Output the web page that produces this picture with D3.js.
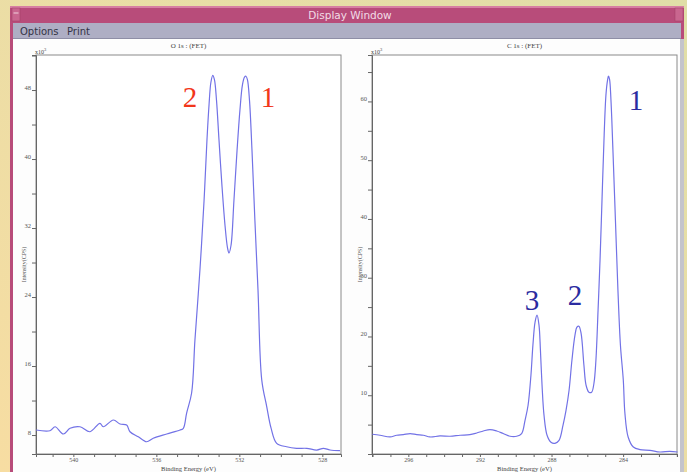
<!DOCTYPE html>
<html><head><meta charset="utf-8">
<script src="https://cdn.jsdelivr.net/npm/d3@7"></script>
<style>html,body{margin:0;padding:0;overflow:hidden;background:#e9dfa6}</style>
</head><body><svg id="c" width="687" height="472"></svg>
<script>
// ---- Data (intensity in units of x10^3 CPS) ----
const oEnergy = [541.8,541.13,540.88,540.48,540.16,539.68,539.2,538.72,538.56,538.07,537.75,537.43,537.27,536.87,536.47,536.15,535.5,534.86,534.7,534.54,534.3,534.14,533.9,533.7,533.56,533.46,533.37,533.28,533.2,533.1,532.98,532.84,532.69,532.57,532.5,532.4,532.26,532.11,531.97,531.85,531.75,531.68,531.61,531.51,531.39,531.25,531.1,530.92,530.68,530.47,530.2,529.72,529.24,528.75,528.27,527.95,527.63,527.15];
const oIntensity = [8.58,8.5,8.96,8.12,8.78,8.96,8.38,9.36,8.96,9.74,9.28,9.16,8.38,7.8,7.22,7.62,8.12,8.58,8.78,10.55,12.87,19.0,27.1,35.2,42.2,46.3,48.9,49.7,49.2,46.8,42.2,37.0,32.3,29.7,29.1,30.0,35.2,41.0,45.7,48.6,49.5,49.6,49.2,46.8,41.0,32.9,24.8,14.4,11.3,8.8,7.04,6.64,6.46,6.46,6.26,6.46,6.26,6.18];
const cEnergy = [298.01,297.58,297.02,296.65,296.28,295.9,295.53,295.16,294.79,294.23,293.67,293.11,292.56,292.18,291.81,291.44,291.06,290.7,290.32,289.95,289.67,289.48,289.31,289.15,289.04,288.92,288.81,288.7,288.62,288.53,288.42,288.25,288.03,287.81,287.58,287.36,287.19,287.02,286.86,286.69,286.58,286.47,286.35,286.19,286.07,285.91,285.76,285.63,285.52,285.4,285.29,285.18,285.07,284.96,284.87,284.82,284.76,284.68,284.57,284.43,284.29,284.15,283.99,283.9,283.72,283.43,283.06,282.5,281.94,281.39,280.96];
const cIntensity = [3.36,3.19,2.9,3.19,3.3,3.48,3.3,3.19,2.9,3.07,3.02,3.19,3.3,3.58,3.92,4.16,3.92,3.48,3.02,3.02,3.48,5.74,8.3,13.41,18.52,22.44,23.63,21.93,17.67,11.7,6.59,3.19,1.99,1.82,2.33,4.89,7.44,10.85,15.96,20.22,21.58,21.75,20.56,15.11,11.7,10.51,10.51,12.04,15.96,24.48,33.0,43.2,53.41,61.1,63.63,64.3,63.8,60.25,51.74,39.82,27.89,18.52,12.55,6.93,2.9,1.19,0.75,0.63,0.34,0.46,0.34];
const oXTicks = [540,536,532,528];
const oYTicks = [8,16,24,32,40,48];
const cXTicks = [296,292,288,284];
const cYTicks = [10,20,30,40,50,60];
const oPeakLabels = ["2","1"];
const oPeakPos = [534.38,530.62];
const cPeakLabels = ["3","2","1"];
const cPeakPos = [289.09,286.69,283.28];

const svg = d3.select("#c");
const defs = svg.append("defs");
const g = defs.append("linearGradient").attr("id","bg").attr("x1","1").attr("y1","0").attr("x2","0").attr("y2","1");
g.append("stop").attr("offset","0").attr("stop-color","#e0dea8");
g.append("stop").attr("offset","1").attr("stop-color","#f7dda2");
svg.append("rect").attr("width",687).attr("height",472).attr("fill","url(#bg)");

// window frame
svg.append("rect").attr("x",10).attr("y",6).attr("width",674).attr("height",470).attr("fill","#b84c7a");
svg.append("rect").attr("x",10).attr("y",6).attr("width",674).attr("height",2).attr("fill","#d77fa2");
svg.append("rect").attr("x",13).attr("y",23).attr("width",668).attr("height",455).attr("fill","#fdfdfd");
svg.append("rect").attr("x",13).attr("y",23).attr("width",668).attr("height",16).attr("fill","#aeaec4");
svg.append("rect").attr("x",13).attr("y",38).attr("width",668).attr("height",1).attr("fill","#8e8ea6");
svg.append("rect").attr("x",680).attr("y",39).attr("width",4).attr("height",440).attr("fill","#c4c4cc");
svg.append("rect").attr("x",12).attr("y",8).attr("width",8).attr("height",13).attr("fill","#c9668f").attr("stroke","#9e3e66").attr("stroke-width",0.5);
svg.append("line").attr("x1",13.5).attr("x2",18.5).attr("y1",13).attr("y2",13).attr("stroke","#f0d0dc").attr("stroke-width",1);
svg.append("rect").attr("x",675).attr("y",8).attr("width",8).attr("height",13).attr("fill","#c9668f").attr("stroke","#9e3e66").attr("stroke-width",0.5);
svg.append("text").attr("x",350).attr("y",19).attr("text-anchor","middle").attr("fill","#f2dce6")
  .style("font-family","DejaVu Sans").style("font-size","10.5px").text("Display Window");
svg.append("text").attr("x",20).attr("y",35).attr("fill","#333344")
  .style("font-family","DejaVu Sans").style("font-size","10px").text("Options");
svg.append("text").attr("x",67).attr("y",35).attr("fill","#333344")
  .style("font-family","DejaVu Sans").style("font-size","10px").text("Print");

function panel(cfg){
  const x = d3.scaleLinear().domain(cfg.xDomain).range([cfg.left, cfg.right]);
  const y = d3.scaleLinear().domain(cfg.yDomain).range([cfg.bottom, cfg.top]);
  const gp = svg.append("g");
  gp.append("rect").attr("x",cfg.left).attr("y",cfg.top).attr("width",cfg.right-cfg.left).attr("height",cfg.bottom-cfg.top)
    .attr("fill","#fff").attr("stroke","#8a8a8a").attr("stroke-width",1);
  const xMinor = d3.range(Math.ceil(cfg.xDomain[1]), Math.floor(cfg.xDomain[0])+1, 1);
  const xa = d3.axisBottom(x).tickValues(xMinor).tickSize(3)
    .tickFormat(d => cfg.xTicks.includes(d) ? d : "");
  const gx = gp.append("g").attr("transform",`translate(0,${cfg.bottom})`).call(xa);
  gx.select(".domain").attr("stroke","#666");
  gx.selectAll(".tick line").attr("stroke","#666");
  gx.selectAll("text").attr("fill","#555").style("font-family","Liberation Serif").style("font-size","6px").attr("y",3.5).attr("dy","0.75em");
  const yMinor = d3.range(Math.ceil(cfg.yDomain[0]/cfg.yMinorStep)*cfg.yMinorStep, cfg.yDomain[1], cfg.yMinorStep);
  const ya = d3.axisLeft(y).tickValues(yMinor).tickSize(4)
    .tickFormat(d => cfg.yTicks.includes(d) ? d : "");
  const gy = gp.append("g").attr("transform",`translate(${cfg.left},0)`).call(ya);
  gy.select(".domain").attr("stroke","#666");
  gy.selectAll(".tick line").attr("stroke","#666");
  gy.selectAll("text").attr("fill","#555").style("font-family","Liberation Serif").style("font-size","6.5px").attr("dy","-0.1em").attr("x",-5);
  gp.append("text").attr("x",(cfg.left+cfg.right)/2).attr("y",48).attr("text-anchor","middle").attr("fill","#444")
    .style("font-family","Liberation Serif").style("font-size","7px").text(cfg.title);
  gp.append("text").attr("x",(cfg.left+cfg.right)/2).attr("y",471).attr("text-anchor","middle").attr("fill","#444")
    .style("font-family","Liberation Serif").style("font-size","6.5px").text("Binding Energy (eV)");
  gp.append("text").attr("transform",`translate(${cfg.left-10},${(cfg.top+cfg.bottom)/2+10}) rotate(-90)`).attr("text-anchor","middle").attr("fill","#555")
    .style("font-family","Liberation Serif").style("font-size","6px").text("Intensity(CPS)");
  const ex = gp.append("text").attr("x",cfg.left-1).attr("y",cfg.top-1).attr("fill","#444")
    .style("font-family","Liberation Serif").style("font-size","6px");
  ex.append("tspan").text("x10");
  ex.append("tspan").attr("dy",-3).style("font-size","4.5px").text("3");
  const pts = cfg.energy.map((e,i)=>[e,cfg.intensity[i]]);
  gp.append("path").datum(pts).attr("fill","none").attr("stroke","#7272e6").attr("stroke-width",1.2)
    .attr("d", d3.line().x(d=>x(d[0])).y(d=>y(d[1])).curve(d3.curveCatmullRom.alpha(0.5)));
  cfg.labels.forEach((t,i)=>{
    gp.append("text").attr("x",x(cfg.labelPos[i])).attr("y",cfg.labelY[i]).attr("text-anchor","middle")
      .attr("fill",cfg.labelColor).style("font-family","Liberation Serif").style("font-size","29px").text(t);
  });
}

panel({left:36,right:341,top:55,bottom:454,xDomain:[541.8,527.1],yDomain:[5.8,52.06],yMinorStep:4,
  xTicks:oXTicks,yTicks:oYTicks,title:"O 1s : (FET)",energy:oEnergy,intensity:oIntensity,
  labels:oPeakLabels,labelPos:oPeakPos,labelY:[107,107],labelColor:"#f2361a"});
panel({left:372,right:677,top:55,bottom:454,xDomain:[298.03,280.99],yDomain:[0,67.9],yMinorStep:5,
  xTicks:cXTicks,yTicks:cYTicks,title:"C 1s : (FET)",energy:cEnergy,intensity:cIntensity,
  labels:cPeakLabels,labelPos:cPeakPos,labelY:[310,305,110],labelColor:"#2b2ba0"});
</script></body></html>
